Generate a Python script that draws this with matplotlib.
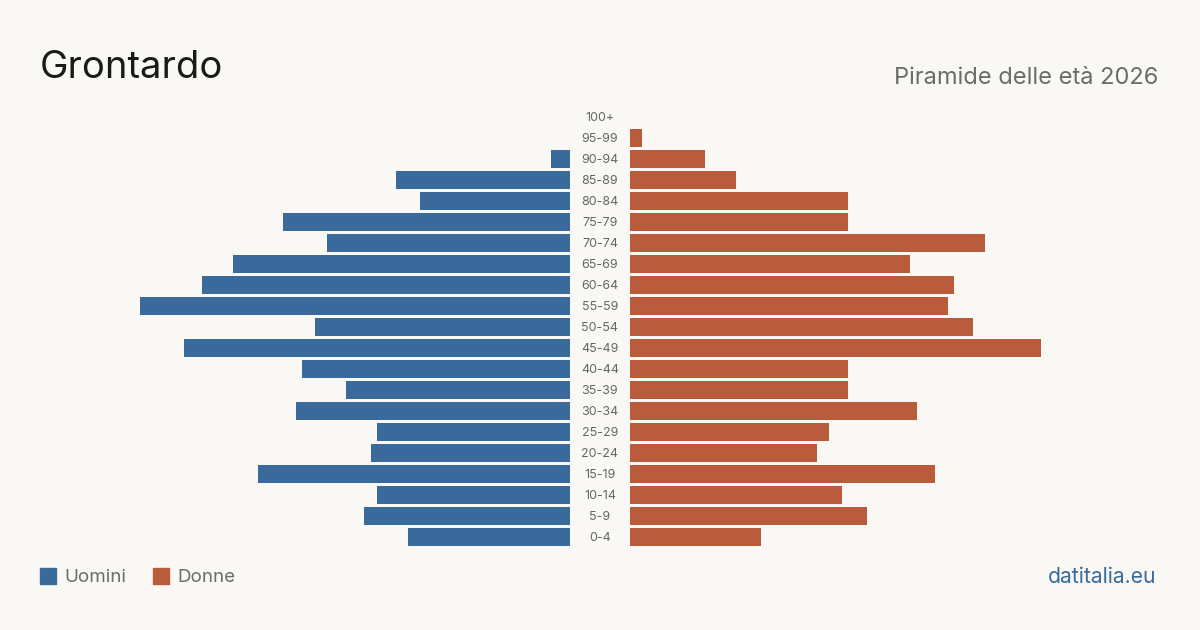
import matplotlib.pyplot as plt
from matplotlib.patches import Rectangle

plt.rcParams['font.family'] = ['Inter', 'DejaVu Sans']

# Dati: popolazione per classe di età
classi = ['0-4', '5-9', '10-14', '15-19', '20-24', '25-29', '30-34', '35-39',
          '40-44', '45-49', '50-54', '55-59', '60-64', '65-69', '70-74',
          '75-79', '80-84', '85-89', '90-94', '95-99', '100+']
uomini = [26, 33, 31, 50, 32, 31, 44, 36, 43, 62, 41, 69, 59, 54, 39,
          46, 24, 28, 3, 0, 0]
donne = [21, 38, 34, 49, 30, 32, 46, 35, 35, 66, 55, 51, 52, 45, 57,
         35, 35, 17, 12, 2, 0]

bg = '#f9f8f4'
blu = '#3a6a9b'
rosso = '#b95c3c'

fig = plt.figure(figsize=(12, 6.3), dpi=100, facecolor=bg)

W = 1200
H = 630
xmax = 85.05
bottom = (H - 547.5) / H
height = 441 / H

ax_l = fig.add_axes([40 / W, bottom, 530 / W, height])
ax_r = fig.add_axes([630 / W, bottom, 530 / W, height])

y = list(range(len(classi)))
ax_l.barh(y, uomini, height=0.81, color=blu)
ax_r.barh(y, donne, height=0.81, color=rosso)

ax_l.set_xlim(xmax, 0)
ax_r.set_xlim(0, xmax)
for ax in (ax_l, ax_r):
    ax.set_ylim(-0.5, len(classi) - 0.5)
    ax.set_facecolor(bg)
    ax.axis('off')

# etichette delle classi al centro
for i, c in enumerate(classi):
    ax_r.annotate(c, xy=(0, i), xytext=(-30, -1), textcoords='offset pixels',
                  ha='center', va='center', fontsize=9, color='#666666',
                  annotation_clip=False)

fig.text(40 / W, 1 - 68 / H, 'Grontardo', fontsize=27.5, color='#1a1a1a',
         ha='left', va='center')
fig.text(1158 / W, 1 - 78 / H, 'Piramide delle età 2026', fontsize=17,
         color='#6b6b6b', ha='right', va='center')

# legenda
fig.patches.append(Rectangle((40 / W, 1 - 584 / H), 16 / W, 16 / H,
                             transform=fig.transFigure, color=blu))
fig.text(64 / W, 1 - 577 / H, 'Uomini', fontsize=13.5, color='#6b6b6b',
         ha='left', va='center')
fig.patches.append(Rectangle((153 / W, 1 - 584 / H), 16 / W, 16 / H,
                             transform=fig.transFigure, color=rosso))
fig.text(177 / W, 1 - 577 / H, 'Donne', fontsize=13.5, color='#6b6b6b',
         ha='left', va='center')

fig.text(1156 / W, 1 - 577 / H, 'datitalia.eu', fontsize=15.2, color=blu,
         ha='right', va='center')

fig.savefig('out.png', dpi=100, facecolor=bg)
